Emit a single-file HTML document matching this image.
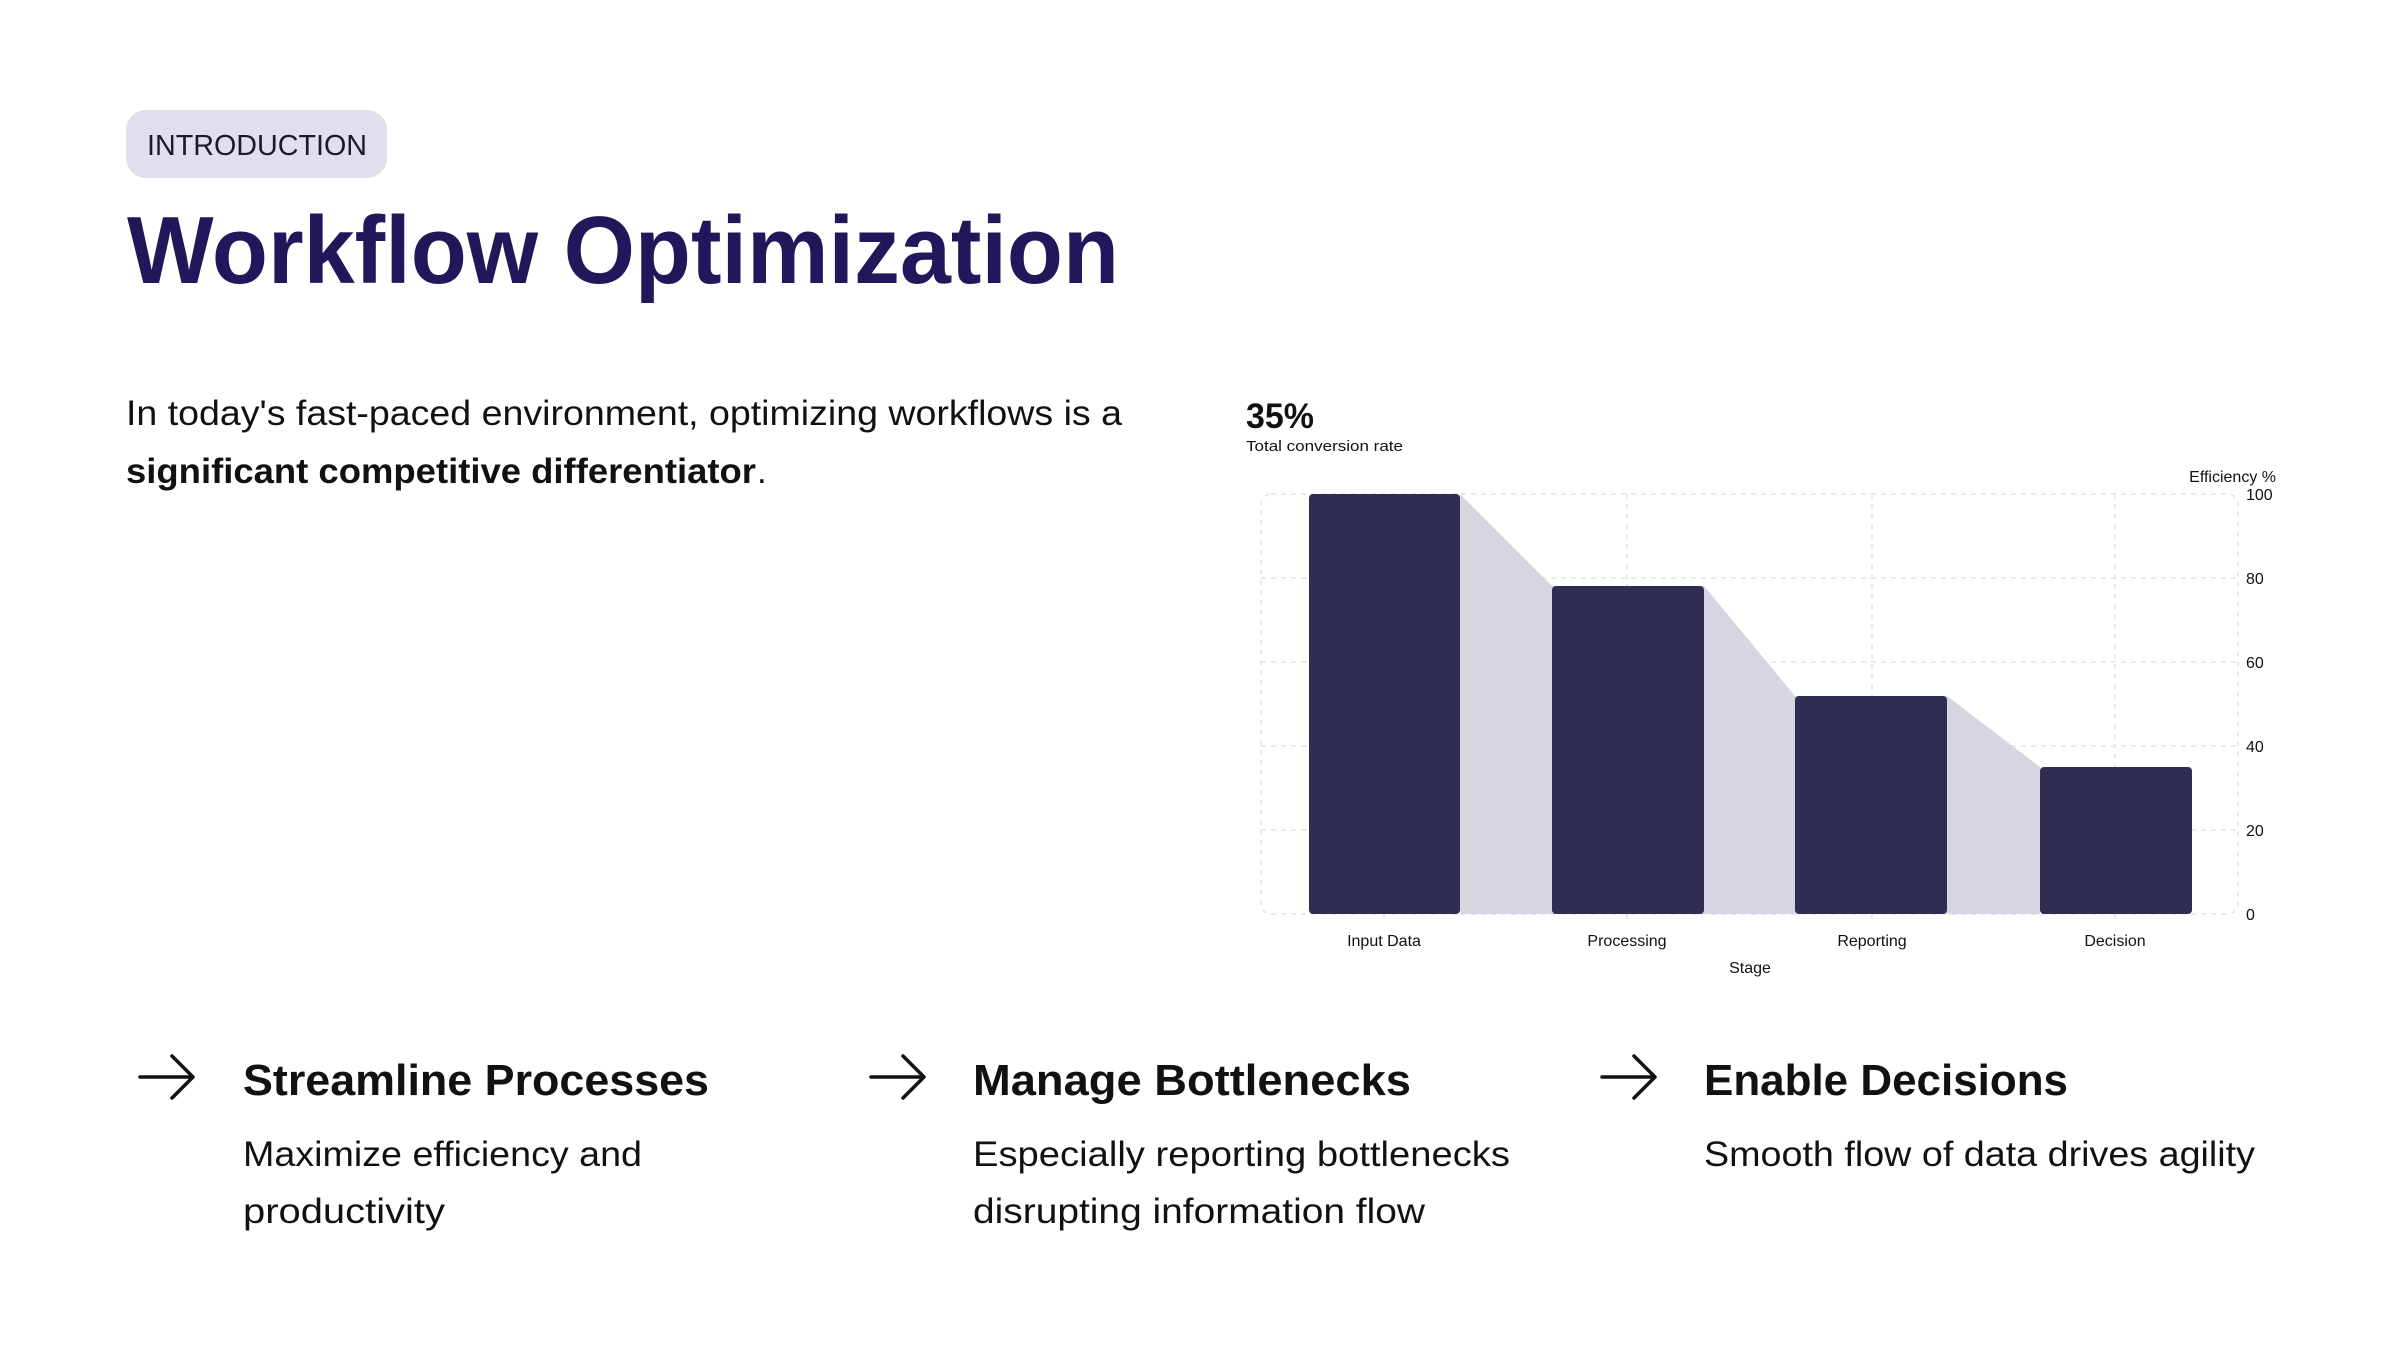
<!DOCTYPE html>
<html><head><meta charset="utf-8"><style>
html,body{margin:0;padding:0;background:#fff;}
svg{display:block;}
text{font-family:"Liberation Sans",sans-serif;}
</style></head><body>
<svg width="2400" height="1350" viewBox="0 0 2400 1350" xmlns="http://www.w3.org/2000/svg">
<rect width="2400" height="1350" fill="#fff"/>
<!-- pill -->
<rect x="126" y="110" width="261" height="68" rx="20" fill="#e0dfed"/>
<text x="147" y="155" font-size="29" fill="#1a1a2a" textLength="220" lengthAdjust="spacingAndGlyphs">INTRODUCTION</text>
<!-- title -->
<text x="127" y="283" font-size="96" font-weight="bold" fill="#22175a" textLength="992" lengthAdjust="spacingAndGlyphs">Workflow Optimization</text>
<!-- paragraph -->
<text x="126" y="425" font-size="35" fill="#111" textLength="996" lengthAdjust="spacingAndGlyphs">In today's fast-paced environment, optimizing workflows is a</text>
<text x="126" y="483" font-size="35" font-weight="bold" fill="#111" textLength="630" lengthAdjust="spacingAndGlyphs">significant competitive differentiator</text>
<text x="757" y="483" font-size="35" fill="#111">.</text>

<!-- chart header -->
<text x="1246" y="428" font-size="35" font-weight="bold" fill="#111" textLength="68" lengthAdjust="spacingAndGlyphs">35%</text>
<text x="1246" y="451" font-size="15" fill="#111" textLength="157" lengthAdjust="spacingAndGlyphs">Total conversion rate</text>

<!-- grid -->
<g stroke="#e4e4e8" stroke-width="1.5" stroke-dasharray="5,5" fill="none">
<rect x="1261" y="494" width="977" height="420" rx="10"/>
<line x1="1261" y1="578" x2="2238" y2="578"/>
<line x1="1261" y1="662" x2="2238" y2="662"/>
<line x1="1261" y1="746" x2="2238" y2="746"/>
<line x1="1261" y1="830" x2="2238" y2="830"/>
<line x1="1384" y1="494" x2="1384" y2="924"/>
<line x1="1627" y1="494" x2="1627" y2="924"/>
<line x1="1872" y1="494" x2="1872" y2="924"/>
<line x1="2115" y1="494" x2="2115" y2="924"/>
</g>
<!-- area -->
<polygon points="1460,494 1552,586 1704,586 1795,696 1947,696 2040,767 2040,914 1460,914" fill="#d7d6e0"/>
<!-- bars -->
<g fill="#302d52">
<rect x="1309" y="494" width="151" height="420" rx="4"/>
<rect x="1552" y="586" width="152" height="328" rx="4"/>
<rect x="1795" y="696" width="152" height="218" rx="4"/>
<rect x="2040" y="767" width="152" height="147" rx="4"/>
</g>
<!-- y labels -->
<g font-size="16" fill="#111">
<text x="2276" y="482" text-anchor="end">Efficiency %</text>
<text x="2246" y="500">100</text>
<text x="2246" y="584">80</text>
<text x="2246" y="668">60</text>
<text x="2246" y="752">40</text>
<text x="2246" y="836">20</text>
<text x="2246" y="920">0</text>
</g>
<g font-size="16" fill="#111" text-anchor="middle">
<text x="1384" y="946">Input Data</text>
<text x="1627" y="946">Processing</text>
<text x="1872" y="946">Reporting</text>
<text x="2115" y="946">Decision</text>
<text x="1750" y="973">Stage</text>
</g>

<!-- bottom items -->
<g stroke="#111" stroke-width="3.5" fill="none" stroke-linecap="round" stroke-linejoin="round">
<path d="M140 1077 H193 M172 1056 L193 1077 L172 1098"/>
<path d="M871 1077 H924 M903 1056 L924 1077 L903 1098"/>
<path d="M1602 1077 H1655 M1634 1056 L1655 1077 L1634 1098"/>
</g>
<g font-size="44" font-weight="bold" fill="#111">
<text x="243" y="1095" textLength="466" lengthAdjust="spacingAndGlyphs">Streamline Processes</text>
<text x="973" y="1095" textLength="438" lengthAdjust="spacingAndGlyphs">Manage Bottlenecks</text>
<text x="1704" y="1095" textLength="364" lengthAdjust="spacingAndGlyphs">Enable Decisions</text>
</g>
<g font-size="35" fill="#111">
<text x="243" y="1166" textLength="399" lengthAdjust="spacingAndGlyphs">Maximize efficiency and</text>
<text x="243" y="1223" textLength="202" lengthAdjust="spacingAndGlyphs">productivity</text>
<text x="973" y="1166" textLength="537" lengthAdjust="spacingAndGlyphs">Especially reporting bottlenecks</text>
<text x="973" y="1223" textLength="452" lengthAdjust="spacingAndGlyphs">disrupting information flow</text>
<text x="1704" y="1166" textLength="551" lengthAdjust="spacingAndGlyphs">Smooth flow of data drives agility</text>
</g>
</svg>
</body></html>
